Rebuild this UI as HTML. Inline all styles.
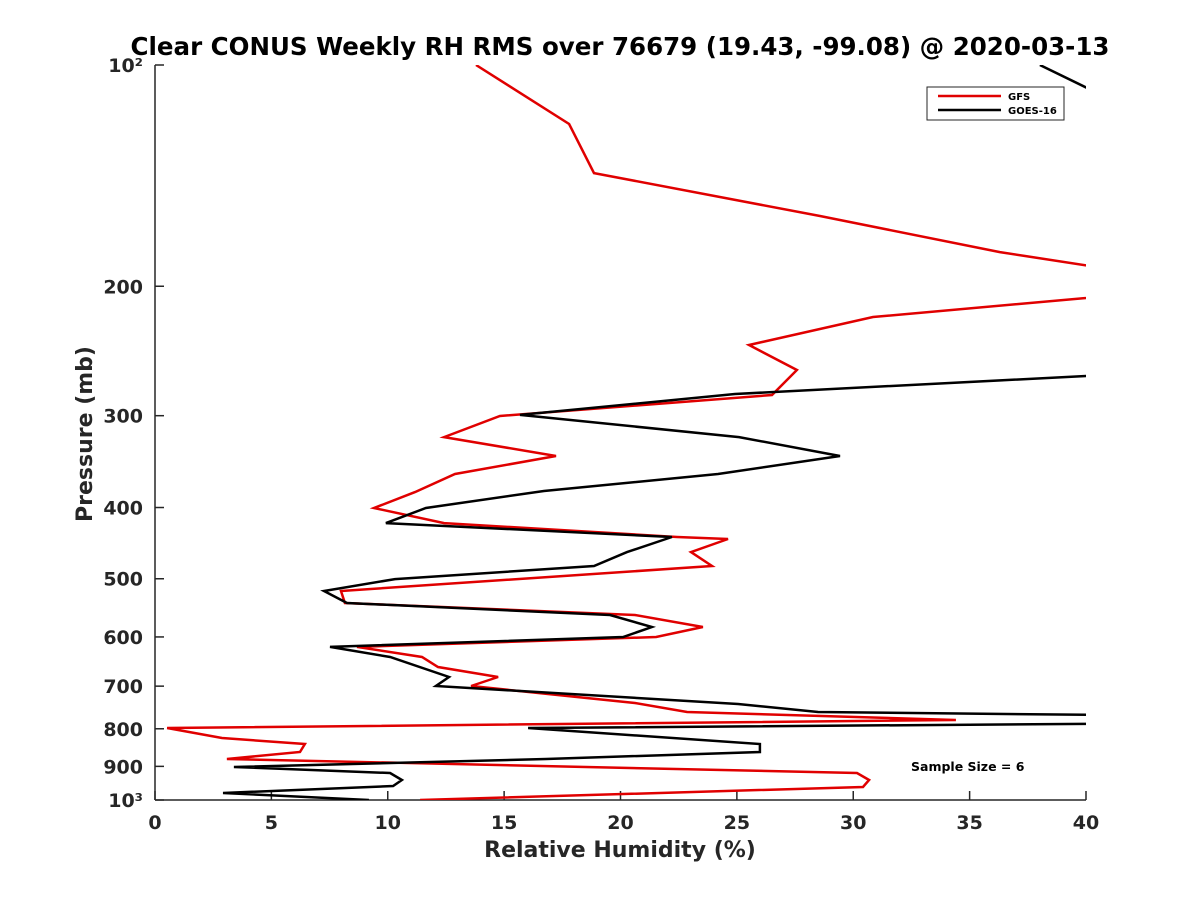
<!DOCTYPE html>
<html><head><meta charset="utf-8"><style>
body{margin:0;background:#fff;}
svg text{font-family:"DejaVu Sans","Liberation Sans",sans-serif;font-weight:bold;fill:#262626;}
</style></head><body>
<svg id="chart" width="1200" height="900" xmlns="http://www.w3.org/2000/svg">
<rect width="1200" height="900" fill="#fff"/>
<defs><clipPath id="plotclip"><rect x="155" y="65" width="931" height="735"/></clipPath></defs>
<text x="620" y="55" text-anchor="middle" font-size="24.5" style="fill:#000">Clear CONUS Weekly RH RMS over 76679 (19.43, -99.08) @ 2020-03-13</text>
<g id="axes"></g>
<g id="series" clip-path="url(#plotclip)"></g>
<text x="620" y="857" text-anchor="middle" font-size="22">Relative Humidity (%)</text>
<text transform="translate(92,434) rotate(-90)" text-anchor="middle" font-size="22">Pressure (mb)</text>
<text x="911" y="771" font-size="12.5" style="fill:#000">Sample Size = 6</text>
<g>
<rect x="927" y="87" width="137" height="33" fill="#fff" stroke="#262626" stroke-width="1"/>
<line x1="938" y1="96" x2="1001" y2="96" stroke="#e00000" stroke-width="2.5"/>
<text x="1008" y="100" font-size="10" style="fill:#000">GFS</text>
<line x1="938" y1="110" x2="1001" y2="110" stroke="#000" stroke-width="2.5"/>
<text x="1008" y="114" font-size="10" style="fill:#000">GOES-16</text>
</g>
</svg>
<script>
const xTicks=[0,5,10,15,20,25,30,35,40];
const yTicks=[100,200,300,400,500,600,700,800,900,1000];
const yTickLabels=["10²","200","300","400","500","600","700","800","900","10³"];
const gfsPressure=[100,120.3,140.3,160.5,179.7,198,207.5,220.2,240.4,260,281.2,300.3,320.8,340.4,360.1,381.1,400.6,420,438.7,441.5,459.9,480.5,519.6,539.5,560.2,581.6,600.1,619.1,639,659.2,680.2,699.7,737.9,759.1,778.4,798,823.4,839,860.3,879.4,919,939.3,960,1000];
const gfsRH=[13.79,17.79,18.86,28.57,36.3,44.9,40,30.85,25.52,27.58,26.51,14.82,12.42,17.23,12.89,11.17,9.41,12.42,22.43,24.62,23.03,23.93,7.99,8.16,20.62,23.54,21.53,8.68,11.47,12.16,14.74,13.58,20.62,22.86,34.41,0.52,2.88,6.44,6.23,3.09,30.16,30.68,30.42,11.39];
const goesPressure=[100,120.6,252,264.9,280.3,299.3,320.8,340.4,360.1,379.8,400.6,420,438.7,459.9,480.5,500.5,519.6,539.5,560.2,581.6,600.1,619.1,639,680.2,699.7,740.3,759.1,768.6,785.6,798,839,860.3,879.4,901.8,919,939.3,957,978.3,1000];
const goesRH=[38.02,43.3,53.5,40,24.92,15.68,25.09,29.43,24.19,16.71,11.64,9.92,22.21,20.28,18.86,10.31,7.26,8.25,19.55,21.35,20.11,7.52,10.1,12.63,12.07,25.05,28.49,44.9,44.9,16.03,25.99,25.99,16.8,3.39,10.1,10.61,10.23,2.92,9.19];
const X0=155,X1=1086,Y0=65,Y1=800;
const xs=v=>X0+(v-0)/(40-0)*(X1-X0);
const ys=p=>Y0+(Math.log10(p)-2)/(3-2)*(Y1-Y0);
const NS="http://www.w3.org/2000/svg";
function mk(t,a,parent){const e=document.createElementNS(NS,t);for(const k in a)e.setAttribute(k,a[k]);parent.appendChild(e);return e;}
const axes=document.getElementById('axes');
let l=mk('line',{x1:X0,y1:Y0,x2:X0,y2:Y1,stroke:'#262626','stroke-width':1.5},axes);


l=mk('line',{x1:X0,y1:Y1,x2:X1,y2:Y1,stroke:'#262626','stroke-width':1.5},axes);


xTicks.forEach(v=>{const x=xs(v);
 const t=mk('line',{x1:x,y1:Y1,x2:x,y2:Y1-9,stroke:'#262626','stroke-width':1.5},axes);
 
 
 const tx=mk('text',{x:x,y:Y1+29,'text-anchor':'middle','font-size':19},axes);
 
 
 tx.textContent=v;});
yTicks.forEach((p,i)=>{const y=ys(p);
 const t=mk('line',{x1:X0,y1:y,x2:X0+9,y2:y,stroke:'#262626','stroke-width':1.5},axes);
 
 
 const tx=mk('text',{x:X0-12,y:y+7,'text-anchor':'end','font-size':19},axes);
 
 
 tx.textContent=yTickLabels[i];});
const series=document.getElementById('series');
function draw(P,R,color,name){
 const pts=P.map((p,i)=>xs(R[i]).toFixed(1)+','+ys(p).toFixed(1)).join(' ');
 const pl=mk('polyline',{points:pts,fill:'none',stroke:color,'stroke-width':2.5,'stroke-linejoin':'miter'},series);
 
 
}
draw(gfsPressure,gfsRH,'#e00000','gfs-line');
draw(goesPressure,goesRH,'#000000','goes16-line');
</script>
</body></html>
